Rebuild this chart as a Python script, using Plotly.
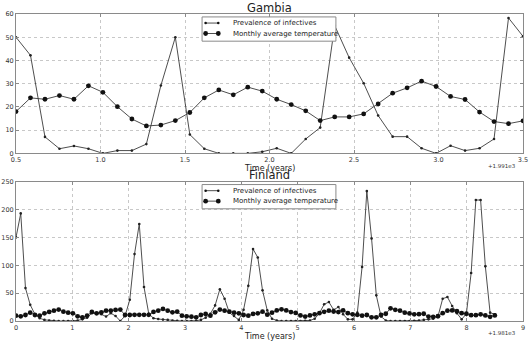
import numpy as np
import plotly.graph_objects as go

# ---------------- data ----------------
gam_t_start, gam_t_end, gam_n = 0.5, 3.5, 36
fin_t_start, fin_t_end, fin_n = 0.0, 8.5, 102

gam_prev = [50, 42.2, 7.1, 2.0, 3.2, 2.0, 0, 1.2, 1.2, 4.0,
            29.2, 50, 8.1, 2.0, 0, 0, 0, 0.7, 2.2, 0,
            6.2, 11.1, 55, 41.2, 30.2, 16.3, 7.2, 7.2, 2.2, 0,
            3.3, 1.2, 2.2, 6.2, 58.3, 50.4]
gam_temp = [18.0, 23.9, 23.3, 24.9, 23.3, 29.1, 26.3, 20.1, 14.8, 11.8,
            12.2, 14.1, 17.6, 23.9, 27.3, 25.2, 28.5, 26.8, 23.3, 21.0,
            18.3, 14.1, 15.7, 15.7, 17.0, 21.3, 25.9, 28.2, 31.1, 28.8,
            24.5, 23.2, 17.8, 13.7, 12.8, 14.0]

fin_prev = [150, 193, 59, 29, 12, 5, 2, 1, 0.5, 0,
            0, 0, 0, 1, 3, 6, 14, 14, 12, 8,
            14, 9, 0, 9, 38, 120, 174, 61, 13, 5,
            3.5, 2.5, 2, 1, 0.5, 0, 0, 0, 0.5, 2,
            6, 13, 28, 57, 40, 15, 9, 2, 20, 63,
            129, 114, 55, 19, 4, 1, 0, 0, 0, 0,
            0, 0.5, 1, 4, 14, 30, 34, 20, 25, 12,
            3, 3, 15, 97, 233, 148, 46, 8, 1, 0,
            0, 0, 0, 0, 0.5, 1, 2, 3, 4, 8,
            40, 43, 27, 14, 3, 13, 86, 217, 217, 98,
            15, 12]
fin_temp = [9.6, 8.4, 10.8, 15, 10.8, 9.6, 13.8, 16.2, 18.6, 20.4,
            16.8, 15, 13.8, 8.4, 6.6, 9.6, 16.2, 13.8, 15.6, 18.6,
            18.6, 19.8, 20.4, 10.8, 10.8, 11, 11, 11, 11, 16.2,
            18.6, 21.6, 18.6, 15.6, 16.8, 9.6, 8.4, 7.8, 6.6, 10.8,
            12.6, 9.6, 15.6, 20.4, 18.6, 16.8, 15, 13.8, 10.8, 9.6,
            12.6, 13.8, 16.8, 11.4, 15, 19, 21, 19, 16, 14.5,
            10, 8, 10, 12, 14, 16.5, 18.5, 17, 16, 19,
            14, 12, 11, 9.6, 10.8, 6.6, 6.6, 10.8, 13, 22.8,
            20, 18.6, 15, 13.5, 12, 12.3, 13, 8, 7.5, 8.5,
            14, 18.5, 19, 17.5, 14, 13, 10.5, 10.5, 12, 10,
            7.5, 10]

gam_t = np.linspace(gam_t_start, gam_t_end, gam_n)
fin_t = np.linspace(fin_t_start, fin_t_end, fin_n)

series_names = ["Prevalence of infectives", "Monthly average temperature"]
titles = ["Gambia", "Finland"]
offsets = ["+1.991e3", "+1.981e3"]
x_title = "Time (years)"

FONT = "DejaVu Sans"
LINE = "#3a3a3a"
FRAME = "#8a8a8a"
SMALL_MARK = 2.6
BIG_MARK = 4.8

fig = go.Figure()

def add_pair(t, prev, temp, xa, ya):
    fig.add_trace(go.Scatter(
        x=t, y=prev, mode="lines+markers", name=series_names[0],
        xaxis=xa, yaxis=ya, showlegend=False,
        line=dict(color=LINE, width=0.9),
        marker=dict(symbol="circle", size=SMALL_MARK, color="#222")))
    fig.add_trace(go.Scatter(
        x=t, y=temp, mode="lines+markers", name=series_names[1],
        xaxis=xa, yaxis=ya, showlegend=False,
        line=dict(color=LINE, width=0.9),
        marker=dict(symbol="circle", size=BIG_MARK, color="#111")))

add_pair(gam_t, gam_prev, gam_temp, "x", "y")
add_pair(fin_t, fin_prev, fin_temp, "x2", "y2")

axis_common = dict(
    showgrid=True, gridcolor="#c8c8c8", griddash="dot", gridwidth=1,
    showline=True, linecolor=FRAME, linewidth=1, mirror="allticks",
    ticks="inside", ticklen=3, tickcolor=FRAME,
    tickfont=dict(family=FONT, size=6.5, color="#333"),
    zeroline=False, automargin=False,
)

fig.update_layout(
    width=531, height=341,
    margin=dict(l=16, r=8, t=14, b=20),
    paper_bgcolor="white", plot_bgcolor="white",
    font=dict(family=FONT, color="#222"),
    showlegend=False,
    xaxis=dict(axis_common, domain=[0, 1], anchor="y", range=[0.5, 3.5],
               dtick=0.5, tick0=0.5, tickformat=".1f"),
    yaxis=dict(axis_common, domain=[0.546, 1], anchor="x", range=[0, 60], dtick=10),
    xaxis2=dict(axis_common, domain=[0, 1], anchor="y2", range=[0, 9], dtick=1),
    yaxis2=dict(axis_common, domain=[0, 0.454], anchor="x2", range=[0, 250], dtick=50),
)

# ----- matplotlib-like legend boxes (drawn in each subplot's domain coords) -----
box_x0, box_x1 = 0.367, 0.631
box_y0, box_y1 = 0.805, 0.979
row_y = [0.935, 0.860]
samp_x0, samp_x1 = 0.374, 0.399
text_x = 0.4235
mark_sizes = [SMALL_MARK, BIG_MARK]

for xa, ya in (("x", "y"), ("x2", "y2")):
    xr, yr = xa + " domain", ya + " domain"
    fig.add_shape(type="rect", xref=xr, yref=yr, x0=box_x0, x1=box_x1,
                  y0=box_y0, y1=box_y1, fillcolor="white",
                  line=dict(color=FRAME, width=1), layer="above")
    for k, ry in enumerate(row_y):
        fig.add_shape(type="line", xref=xr, yref=yr, x0=samp_x0, x1=samp_x1,
                      y0=ry, y1=ry, line=dict(color=LINE, width=0.9), layer="above")
        r = mark_sizes[k] / 2
        for sx in (samp_x0, samp_x1):
            fig.add_shape(type="circle", xref=xr, yref=yr,
                          xsizemode="pixel", ysizemode="pixel",
                          xanchor=sx, yanchor=ry, x0=-r, x1=r, y0=-r, y1=r,
                          fillcolor="#111", line=dict(color="#111", width=0),
                          layer="above")
        fig.add_annotation(text=series_names[k], xref=xr, yref=yr,
                           x=text_x, y=ry, xanchor="left", yanchor="middle",
                           showarrow=False,
                           font=dict(family=FONT, size=7, color="#222"))

# axis titles
for yy in (0.496, -0.052):
    fig.add_annotation(text=x_title, x=0.5, y=yy, xref="paper", yref="paper",
                       xanchor="center", yanchor="middle", showarrow=False,
                       borderpad=0,
                       font=dict(family=FONT, size=8, color="#222"))

# subplot titles and offset texts
fig.add_annotation(text=titles[0], x=0.5, y=1.0195, xref="paper", yref="paper",
                   xanchor="center", yanchor="middle", showarrow=False,
                   font=dict(family=FONT, size=11.5, color="#222"))
fig.add_annotation(text=titles[1], x=0.5, y=0.4745, xref="paper", yref="paper",
                   xanchor="center", yanchor="middle", showarrow=False,
                   borderpad=0,
                   font=dict(family=FONT, size=11.5, color="#222"))
fig.add_annotation(text=offsets[0], x=1, y=0.506, xref="paper", yref="paper",
                   xanchor="right", yanchor="middle", showarrow=False, xshift=-5,
                   font=dict(family=FONT, size=5.5, color="#333"))
fig.add_annotation(text=offsets[1], x=1, y=-0.040, xref="paper", yref="paper",
                   xanchor="right", yanchor="middle", showarrow=False, xshift=-5,
                   font=dict(family=FONT, size=5.5, color="#333"))

fig.write_html("out.html", config={"displayModeBar": False, "staticPlot": True},
               post_script="document.body.style.margin='0px';")
